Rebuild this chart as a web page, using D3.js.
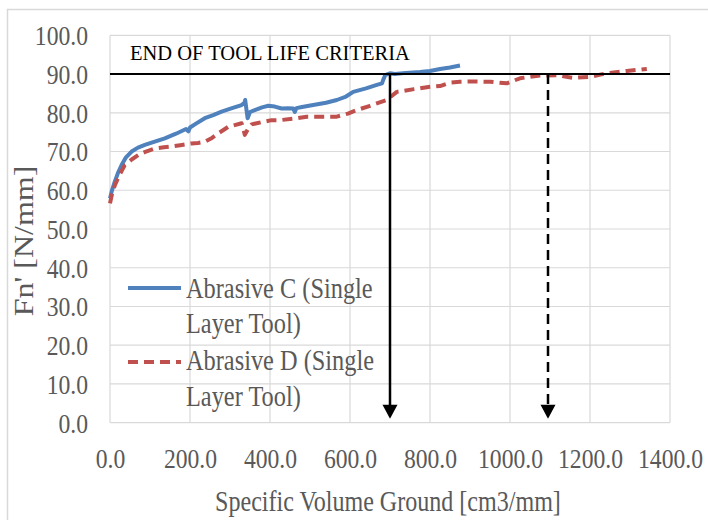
<!DOCTYPE html>
<html>
<head>
<meta charset="utf-8">
<script src="https://cdn.jsdelivr.net/npm/d3@7"></script>
<style>
  body { margin: 0; background: #fff; }
</style>
</head>
<body>
<div id="chart"></div>
<script>
// Abrasive C (Single Layer Tool): [specific volume ground, Fn']
const volC = [0, 5, 12, 20, 29, 40, 54, 70, 87, 110, 137, 165, 190, 196, 200, 215, 237, 258, 279, 305, 329, 336, 338, 344, 350, 362, 380, 396, 412, 429, 445, 458, 462, 466, 480, 508, 540, 567, 590, 608, 640, 667, 680, 683, 688, 700, 712, 740, 775, 800, 825, 850, 875];
const fnC  = [57.9, 60, 62.2, 64.5, 66.5, 68.5, 70, 71, 71.7, 72.5, 73.4, 74.6, 75.8, 75.2, 76.2, 77.2, 78.6, 79.4, 80.3, 81.2, 82, 82.6, 83.3, 78.6, 80.2, 80.7, 81.4, 81.8, 81.6, 81.1, 81.2, 81.1, 80.2, 81.2, 81.5, 82, 82.6, 83.3, 84.2, 85.4, 86.3, 87.2, 87.6, 88.5, 89.7, 90.2, 90, 90.3, 90.5, 90.8, 91.3, 91.7, 92.2];

// Abrasive D (Single Layer Tool)
const volD = [0, 5, 12.5, 25, 37, 55, 71, 90, 112, 135, 154, 180, 204, 220, 237, 255, 271, 296, 329, 333, 337, 345, 354, 380, 404, 425, 460, 492, 530, 567, 595, 617, 650, 692, 717, 760, 800, 825, 850, 875, 910, 950, 992, 1025, 1050, 1075, 1117, 1158, 1200, 1242, 1292, 1342];
const fnD  = [56.6, 59, 61.4, 64.2, 66.5, 68, 69.1, 70, 70.8, 71.1, 71.3, 71.7, 72.1, 72.2, 72.5, 73.5, 74.7, 76.4, 77.3, 76, 74.3, 75.8, 77, 77.6, 78.1, 78.1, 78.5, 79, 79, 79, 79.8, 80.7, 81.8, 83.3, 85.4, 86.1, 86.7, 86.9, 87.8, 88, 88.1, 88, 87.6, 88.9, 89.3, 89.6, 89.7, 89, 89.3, 90.2, 90.8, 91.3];

const seriesNames = ["Abrasive C (Single", "Layer Tool)", "Abrasive D (Single", "Layer Tool)"];
const xTicks = [0, 200, 400, 600, 800, 1000, 1200, 1400];
const yTicks = [0, 10, 20, 30, 40, 50, 60, 70, 80, 90, 100];
const criteriaLevel = 90;
const lifeC = 700;
const lifeD = 1095;
const arrowEnd = 1;

const width = 708, height = 520;
const margin = { top: 35.3, right: 38, bottom: 97.3, left: 110 };
const textColor = "#595959";
const font = '"Liberation Serif", "Times New Roman", serif';
const sx = 0.86;

const svg = d3.select("#chart").append("svg")
  .attr("width", width)
  .attr("height", height);

// outer chart border
svg.append("rect")
  .attr("x", 7.5).attr("y", 9.5)
  .attr("width", 800).attr("height", 600)
  .attr("fill", "none").attr("stroke", "#d9d9d9").attr("stroke-width", 1.5);

const x = d3.scaleLinear().domain([0, 1400]).range([margin.left, width - margin.right]);
const y = d3.scaleLinear().domain([0, 100]).range([height - margin.bottom, margin.top]);

// grid
svg.append("g").selectAll("line").data(yTicks).enter().append("line")
  .attr("x1", x(0)).attr("x2", x(1400))
  .attr("y1", d => y(d)).attr("y2", d => y(d))
  .attr("stroke", "#d9d9d9").attr("stroke-width", 1.2);
svg.append("g").selectAll("line").data(xTicks).enter().append("line")
  .attr("x1", d => x(d)).attr("x2", d => x(d))
  .attr("y1", y(0)).attr("y2", y(100))
  .attr("stroke", "#d9d9d9").attr("stroke-width", 1.2);

// axes (labels only)
const yAxis = svg.append("g")
  .attr("transform", `translate(${margin.left},0)`)
  .call(d3.axisLeft(y).tickValues(yTicks).tickFormat(d3.format(".1f")).tickSize(0));
yAxis.select(".domain").remove();
yAxis.selectAll("text")
  .attr("x", -22 / sx).attr("dy", "0.34em")
  .attr("transform", `scale(${sx},1)`)
  .attr("fill", textColor)
  .style("font-family", font)
  .style("font-size", "27.5px");

const xAxis = svg.append("g")
  .attr("transform", `translate(0,${y(0)})`)
  .call(d3.axisBottom(x).tickValues(xTicks).tickFormat(d3.format(".1f")).tickSize(0));
xAxis.select(".domain").remove();
xAxis.selectAll("text")
  .attr("y", 45).attr("dy", "0")
  .attr("transform", `scale(${sx},1)`)
  .attr("fill", textColor)
  .style("font-family", font)
  .style("font-size", "27.5px");

// axis titles
svg.append("text")
  .attr("transform", `translate(388,511) scale(0.83,1)`)
  .attr("text-anchor", "middle")
  .attr("fill", textColor)
  .style("font-family", font)
  .style("font-size", "29px")
  .text("Specific Volume Ground [cm3/mm]");

svg.append("text")
  .attr("transform", `translate(33,241) rotate(-90) scale(1,0.85)`)
  .attr("text-anchor", "middle")
  .attr("fill", textColor)
  .style("font-family", font)
  .style("font-size", "32px")
  .text("Fn' [N/mm]");

// series
const line = d3.line().x(d => x(d[0])).y(d => y(d[1]));
const dataC = volC.map((v, i) => [v, fnC[i]]);
const dataD = volD.map((v, i) => [v, fnD[i]]);

svg.append("path").datum(dataC)
  .attr("d", line)
  .attr("fill", "none").attr("stroke", "#4f81bd")
  .attr("stroke-width", 4).attr("stroke-linejoin", "round");

svg.append("path").datum(dataD)
  .attr("d", line)
  .attr("fill", "none").attr("stroke", "#c0504d")
  .attr("stroke-width", 4).attr("stroke-dasharray", "10,6")
  .attr("stroke-linejoin", "round");

// end of tool life criteria
svg.append("line")
  .attr("x1", x(0)).attr("x2", x(1400))
  .attr("y1", y(criteriaLevel)).attr("y2", y(criteriaLevel))
  .attr("stroke", "#000").attr("stroke-width", 2);

svg.append("text")
  .attr("x", 130).attr("y", 60)
  .attr("fill", "#000")
  .style("font-family", font)
  .style("font-size", "20.5px")
  .text("END OF TOOL LIFE CRITERIA");

// arrows
function arrow(v, dashed) {
  const tipY = y(arrowEnd);
  svg.append("line")
    .attr("x1", x(v)).attr("x2", x(v))
    .attr("y1", y(criteriaLevel)).attr("y2", tipY - 12)
    .attr("stroke", "#000").attr("stroke-width", 2.5)
    .attr("stroke-dasharray", dashed ? "10,6" : null);
  svg.append("path")
    .attr("d", `M${x(v) - 7.5},${tipY - 14} L${x(v) + 7.5},${tipY - 14} L${x(v)},${tipY} Z`)
    .attr("fill", "#000");
}
arrow(lifeC, false);
arrow(lifeD, true);

// legend
const legend = svg.append("g");
const legendRows = [
  { color: "#4f81bd", dash: null, ly: 288, t1: 298, t2: 333, names: seriesNames.slice(0, 2) },
  { color: "#c0504d", dash: "10,6", ly: 362, t1: 370, t2: 406, names: seriesNames.slice(2, 4) }
];
legendRows.forEach(r => {
  legend.append("line")
    .attr("x1", 128).attr("x2", 181)
    .attr("y1", r.ly).attr("y2", r.ly)
    .attr("stroke", r.color).attr("stroke-width", 4)
    .attr("stroke-dasharray", r.dash);
  [r.names[0], r.names[1]].forEach((name, k) => {
    legend.append("text")
      .attr("transform", `translate(186,${k ? r.t2 : r.t1}) scale(0.84,1)`)
      .attr("fill", textColor)
      .style("font-family", font)
      .style("font-size", "29px")
      .text(name);
  });
});
</script>
</body>
</html>
